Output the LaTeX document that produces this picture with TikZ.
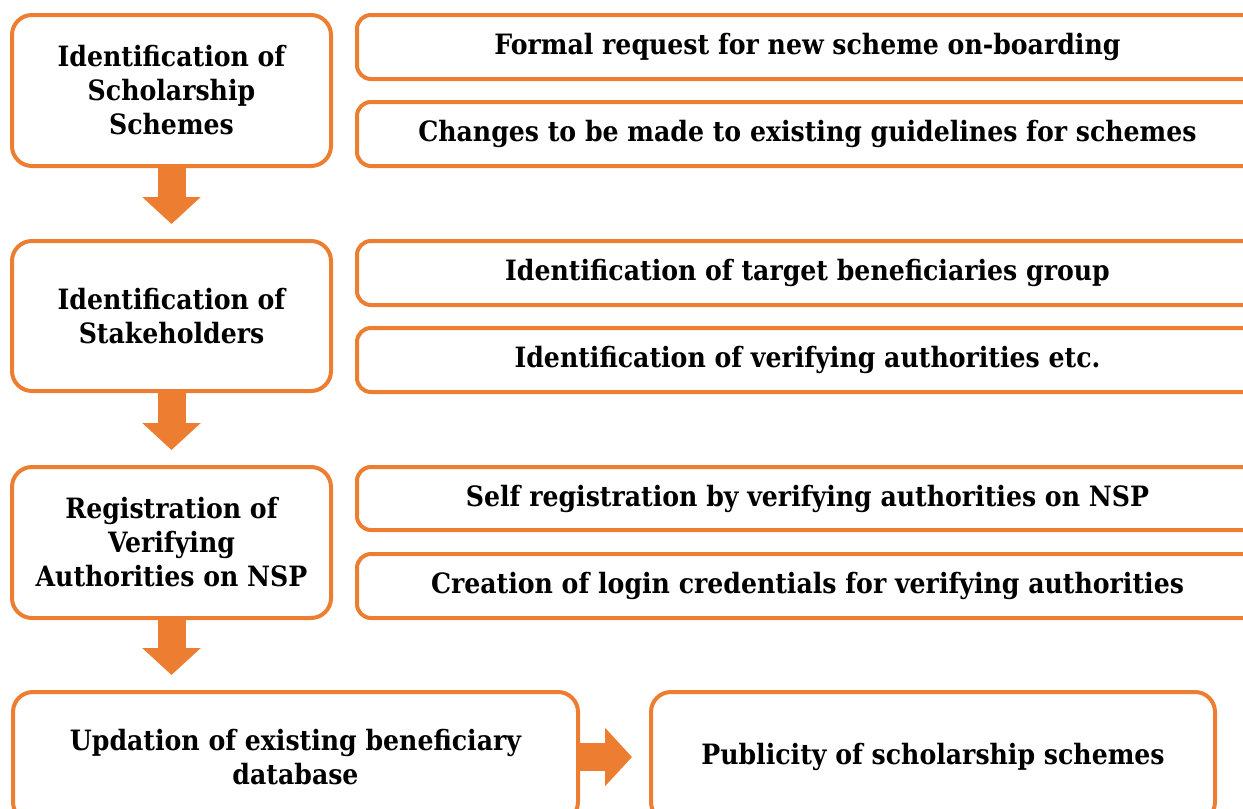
\documentclass[tikz,border=0pt]{standalone}
\usepackage{fontspec}
\setmainfont{DejaVu Serif Condensed}
\usetikzlibrary{arrows.meta}
\definecolor{boxorange}{HTML}{ED7D31}
\begin{document}
\begin{tikzpicture}[x=1pt, y=-1pt,
  box/.style={draw=boxorange, line width=4pt, rounded corners=20pt, align=center,
    font=\fontsize{28}{34}\selectfont\bfseries, inner sep=0pt},
  sidebox/.style={box, rounded corners=14pt, minimum width=901pt, minimum height=64pt},
  flow/.style={draw=boxorange, line width=28pt, -{Triangle[length=27pt, width=57pt]}}]
\path [use as bounding box] (0,0) rectangle (1243,809);
\clip (0,0) rectangle (1243,809);
% left column
\node[box, minimum width=319pt, minimum height=151pt] (scheme) at (171.5,90.5) {Identification of\\Scholarship\\Schemes};
\node[box, minimum width=319pt, minimum height=150pt] (stake) at (171.5,316) {Identification of\\Stakeholders};
\node[box, minimum width=319pt, minimum height=151pt] (regis) at (171.5,542.5) {Registration of\\Verifying\\Authorities on NSP};
\node[box, minimum width=565pt, minimum height=130pt] (updat) at (295.5,757) {Updation of existing beneficiary\\database};
\node[box, minimum width=564pt, minimum height=130pt] (publi) at (933,757) {Publicity of scholarship schemes};
% right column
\node[sidebox] (formal) at (807.5,47) {Formal request for new scheme on-boarding};
\node[sidebox] (change) at (807.5,134) {Changes to be made to existing guidelines for schemes};
\node[sidebox] (target) at (807.5,273) {Identification of target beneficiaries group};
\node[sidebox] (verif) at (807.5,360) {Identification of verifying authorities etc.};
\node[sidebox, minimum height=63pt] (self) at (807.5,498.5) {Self registration by verifying authorities on NSP};
\node[sidebox] (login) at (807.5,586) {Creation of login credentials for verifying authorities};
% block arrows
\draw[flow, shorten >=15pt] (scheme.south) -- (stake.north);
\draw[flow, shorten >=15pt] (stake.south) -- (regis.north);
\draw[flow, shorten >=15pt] (regis.south) -- (regis.south |- updat.north);
\draw[flow, shorten >=17pt] (updat.east) -- (publi.west);
\end{tikzpicture}
\end{document}
